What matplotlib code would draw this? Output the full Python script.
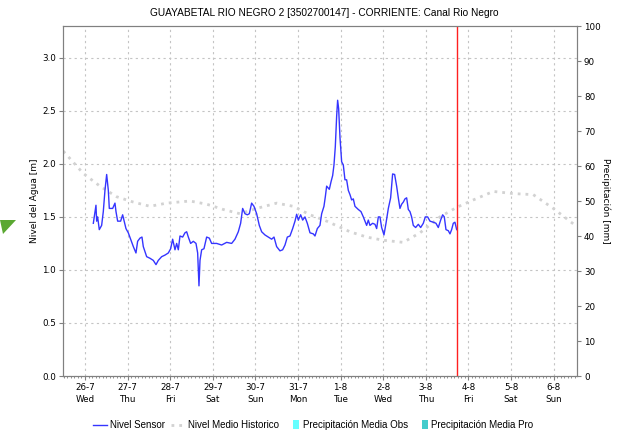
import matplotlib
matplotlib.use("Agg")
import matplotlib.pyplot as plt
from matplotlib.lines import Line2D
from matplotlib.patches import Patch, Polygon, Rectangle
from matplotlib.legend_handler import HandlerPatch
from matplotlib.ticker import MultipleLocator

# ---- data (x in days since 26-7 00:00) ----
sensor_t = [0.196, 0.235, 0.258, 0.274, 0.297, 0.336, 0.391, 0.430, 0.469, 0.509,
            0.548, 0.571, 0.603, 0.650, 0.704, 0.728, 0.767, 0.837, 0.884, 0.915,
            0.962, 1.017, 1.072, 1.135, 1.197, 1.236, 1.291, 1.338, 1.369, 1.448,
            1.526, 1.604, 1.667, 1.721, 1.800, 1.878, 1.956, 2.011, 2.058, 2.113,
            2.152, 2.191, 2.230, 2.293, 2.347, 2.387, 2.426, 2.480, 2.543, 2.606,
            2.645, 2.676, 2.700, 2.739, 2.793, 2.856, 2.919, 2.973, 3.091, 3.208,
            3.326, 3.443, 3.521, 3.599, 3.654, 3.701, 3.756, 3.811, 3.858, 3.912,
            3.967, 4.030, 4.092, 4.147, 4.225, 4.304, 4.382, 4.437, 4.499, 4.577,
            4.640, 4.695, 4.750, 4.812, 4.875, 4.930, 4.969, 5.008, 5.063, 5.110,
            5.164, 5.219, 5.282, 5.360, 5.399, 5.454, 5.516, 5.556, 5.610, 5.642,
            5.673, 5.736, 5.775, 5.814, 5.845, 5.876, 5.908, 5.931, 5.955, 5.986,
            6.025, 6.064, 6.103, 6.142, 6.182, 6.221, 6.260, 6.299, 6.338, 6.416,
            6.479, 6.534, 6.573, 6.612, 6.651, 6.690, 6.753, 6.808, 6.847, 6.886,
            6.925, 6.964, 7.019, 7.066, 7.121, 7.175, 7.222, 7.269, 7.316, 7.355,
            7.394, 7.434, 7.473, 7.512, 7.551, 7.590, 7.629, 7.668, 7.707, 7.762,
            7.825, 7.880, 7.942, 7.989, 8.044, 8.099, 8.177, 8.239, 8.294, 8.349,
            8.396, 8.435, 8.474, 8.529, 8.568, 8.607, 8.646, 8.685, 8.725]
sensor_v = [1.44, 1.55, 1.61, 1.46, 1.50, 1.38, 1.42, 1.55, 1.75, 1.90,
            1.75, 1.58, 1.58, 1.58, 1.63, 1.55, 1.46, 1.46, 1.52, 1.47,
            1.39, 1.35, 1.29, 1.22, 1.16, 1.27, 1.30, 1.31, 1.22, 1.125,
            1.11, 1.09, 1.05, 1.09, 1.125, 1.14, 1.16, 1.20, 1.29, 1.19,
            1.25, 1.19, 1.32, 1.31, 1.35, 1.36, 1.31, 1.25, 1.27, 1.25,
            1.16, 0.85, 1.09, 1.19, 1.20, 1.31, 1.30, 1.25, 1.25, 1.235,
            1.26, 1.25, 1.29, 1.36, 1.44, 1.58, 1.53, 1.52, 1.53, 1.63,
            1.60, 1.53, 1.42, 1.36, 1.33, 1.31, 1.29, 1.31, 1.22, 1.18,
            1.19, 1.235, 1.31, 1.32, 1.39, 1.46, 1.525, 1.47, 1.52, 1.47,
            1.50, 1.44, 1.35, 1.34, 1.32, 1.39, 1.42, 1.53, 1.60, 1.69,
            1.79, 1.76, 1.83, 1.89, 1.99, 2.16, 2.45, 2.60, 2.52, 2.25,
            2.02, 1.99, 1.85, 1.85, 1.75, 1.71, 1.66, 1.67, 1.60, 1.57,
            1.55, 1.50, 1.46, 1.42, 1.47, 1.42, 1.44, 1.43, 1.39, 1.50,
            1.50, 1.40, 1.33, 1.44, 1.58, 1.68, 1.905, 1.90, 1.79, 1.68,
            1.58, 1.62, 1.64, 1.67, 1.68, 1.57, 1.55, 1.50, 1.42, 1.40,
            1.43, 1.40, 1.44, 1.50, 1.50, 1.46, 1.45, 1.44, 1.40, 1.47,
            1.52, 1.50, 1.38, 1.37, 1.34, 1.38, 1.44, 1.45, 1.38]

hist_t = [-0.509, -0.04, 0.352, 0.744, 1.134, 1.526, 1.918, 2.465, 2.857, 3.246,
          3.638, 4.031, 4.5, 4.89, 5.282, 5.674, 6.221, 6.613, 7.002, 7.472,
          7.864, 8.333, 8.725, 9.115, 9.585, 10.054, 10.523, 10.993, 11.542]
hist_v = [2.12, 1.91, 1.79, 1.69, 1.64, 1.60, 1.63, 1.65, 1.62, 1.57,
          1.53, 1.58, 1.63, 1.60, 1.52, 1.46, 1.36, 1.31, 1.28, 1.26,
          1.35, 1.50, 1.59, 1.66, 1.74, 1.72, 1.71, 1.58, 1.41]

now_t = 8.73
day_labels = ["26-7\nWed", "27-7\nThu", "28-7\nFri", "29-7\nSat", "30-7\nSun",
              "31-7\nMon", "1-8\nTue", "2-8\nWed", "3-8\nThu", "4-8\nFri",
              "5-8\nSat", "6-8\nSun"]
left_ticks = [0.0, 0.5, 1.0, 1.5, 2.0, 2.5, 3.0]
right_ticks = [0, 10, 20, 30, 40, 50, 60, 70, 80, 90, 100]

title = "GUAYABETAL RIO NEGRO 2 [3502700147] - CORRIENTE: Canal Rio Negro"

# ---- figure ----
plt.rcParams['font.family'] = ['DejaVu Sans']
W, H = 631, 436
fig = plt.figure(figsize=(W / 100, H / 100), dpi=100)
ax = fig.add_axes([63 / W, 1 - 376 / H, (577 - 63) / W, (376 - 26) / H])

spine_c = '#808080'
grid_c = '#c4c4c4'

ax.set_xlim(-0.516, 11.55)
ax.set_ylim(0, 3.3)
ax.set_xticks(range(len(day_labels)))
ax.set_xticklabels(day_labels, fontsize=6.3, linespacing=1.5)
ax.xaxis.set_minor_locator(MultipleLocator(1 / 12))
ax.set_yticks(left_ticks)
ax.set_yticklabels([f"{v:.1f}" for v in left_ticks], fontsize=6.3)
ax.grid(True, which='major', color=grid_c, linestyle=(0, (2, 3)), linewidth=0.8)
ax.tick_params(axis='both', which='major', direction='out', length=3, color=spine_c, pad=2)
ax.tick_params(axis='x', which='minor', direction='out', length=1.5, color=spine_c)
for s in ax.spines.values():
    s.set_color(spine_c)
    s.set_linewidth(0.8)

hist_style = dict(color='#d2d2d2', linewidth=2.0, linestyle=(0, (1, 1.8)))
ax.plot(hist_t, hist_v, zorder=2, **hist_style)
ax.plot(sensor_t, sensor_v, color='#3535ff', linewidth=1.0, zorder=3)
ax.axvline(now_t, color='#ff2020', linewidth=1.0, zorder=4)

ax.set_ylabel("Nivel del Agua [m]", fontsize=6.5, labelpad=2.5)

ax2 = ax.twinx()
ax2.set_ylim(0, 100)
ax2.set_yticks(right_ticks)
ax2.set_yticklabels([str(v) for v in right_ticks], fontsize=6.3)
ax2.tick_params(axis='y', direction='out', length=3, color=spine_c, pad=2)
for s in ax2.spines.values():
    s.set_color(spine_c)
    s.set_linewidth(0.8)
ax2.set_ylabel("Precipitación [mm]", fontsize=6.5, rotation=-90, labelpad=7)

fig.text(324 / W, 1 - 13 / H, title, ha='center', va='center', fontsize=7.3,
         family='Liberation Sans')


def narrow_patch(legend, orig_handle, xdescent, ydescent, width, height, fontsize):
    return Rectangle((-xdescent + width * 0.55, -ydescent - height * 0.15),
                     width * 0.4, height * 1.3)


handles = [Line2D([], [], color='#3535ff', linewidth=1.0),
           Line2D([], [], **hist_style),
           Patch(facecolor='#66ffff', edgecolor='none'),
           Patch(facecolor='#44cccc', edgecolor='none')]
labels = ["Nivel Sensor", "Nivel Medio Historico", "Precipitación Media Obs",
          "Precipitación Media Pro"]
fig.legend(handles, labels, loc='center', bbox_to_anchor=(313 / W, 1 - 425 / H),
           ncol=4, frameon=False, handlelength=1.5, handletextpad=0.3,
           columnspacing=0.6, prop={'family': 'Liberation Sans', 'size': 7.0},
           handler_map={Patch: HandlerPatch(patch_func=narrow_patch)})

tri = Polygon([(0 / W, 1 - 220 / H), (16 / W, 1 - 220 / H), (3 / W, 1 - 234 / H)],
              closed=True, transform=fig.transFigure, facecolor='#5aa832',
              edgecolor='none')
fig.patches.append(tri)

fig.savefig("out.png", dpi=100)
